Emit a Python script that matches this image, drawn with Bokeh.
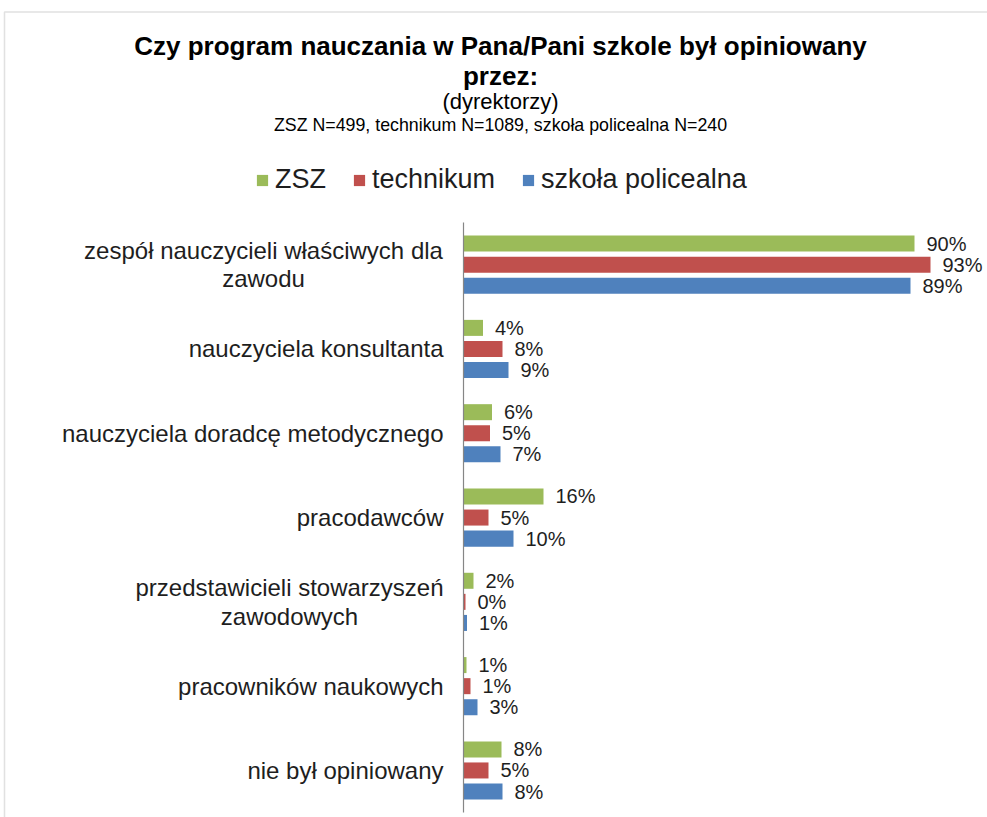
from bokeh.plotting import figure
from bokeh.models import (Range1d, ColumnDataSource, Label,
                          Legend, LegendItem, BoxAnnotation)
from bokeh.transform import dodge
from bokeh.core.properties import value
from bokeh.embed import file_html
from bokeh.resources import INLINE

# ---------------- data ----------------
categories = [
    "zespół nauczycieli właściwych dla\nzawodu",
    "nauczyciela konsultanta",
    "nauczyciela doradcę metodycznego",
    "pracodawców",
    "przedstawicieli stowarzyszeń\nzawodowych",
    "pracowników naukowych",
    "nie był opiniowany",
]
series = ["ZSZ", "technikum", "szkoła policealna"]
zsz = [90.2, 3.9, 5.7, 16.0, 2.0, 0.6, 7.6]
technikum = [93.4, 7.8, 5.3, 5.0, 0.4, 1.4, 5.0]
policealna = [89.4, 9.0, 7.4, 10.0, 0.7, 2.8, 7.8]

title_line1 = "Czy program nauczania w Pana/Pani szkole był opiniowany"
title_line2 = "przez:"
subtitle1 = "(dyrektorzy)"
subtitle2 = "ZSZ N=499, technikum N=1089, szkoła policealna N=240"

# ---------------- styles ----------------
colors = ["#9BBB59", "#C0504D", "#4F81BD"]
offsets = [-0.25, 0.0, 0.25]          # top-to-bottom inside each category band
FONT = "Liberation Sans"
TXT = "#1e1e1e"
W, H = 987, 817

# category index (0 = top band); the y axis runs downward
positions = list(range(len(categories)))

p = figure(width=W, height=H,
           y_range=Range1d(6.558, -3.1335),
           x_range=Range1d(-92.6, 104.8),
           x_axis_location=None, y_axis_location=None,
           min_border_left=0, min_border_right=0,
           min_border_top=0, min_border_bottom=0,
           toolbar_location=None, output_backend="svg")
p.grid.visible = False
p.outline_line_color = None
p.background_fill_color = "white"
p.border_fill_color = "white"

renderers = []
for name, vals, col, off in zip(series, [zsz, technikum, policealna], colors, offsets):
    src = ColumnDataSource(dict(pos=positions, val=vals,
                                label=[f"{round(v)}%" for v in vals]))
    r = p.hbar(y=dodge("pos", off), left=0, right="val",
               height=0.19, source=src, fill_color=col, line_color=None)
    renderers.append(r)
    p.text(x="val", y=dodge("pos", off), text="label", source=src,
           x_offset=12, text_align="left", text_baseline="middle",
           text_font=value(FONT), text_font_size="20px", text_color=TXT)

# category axis line (spans the plot area only)
p.segment(x0=0, x1=0, y0=positions[0] - 0.5, y1=positions[-1] + 0.5,
          line_color="#868686", line_width=1.2)

# category labels
multi_offset = {0: -200, 4: -174}
for i, cat in zip(positions, categories):
    if "\n" in cat:
        p.text(x=0, y=[i], text=[cat], x_offset=multi_offset[i],
               text_align="center", text_baseline="middle", text_line_height=1.05,
               text_font=value(FONT), text_font_size="24px", text_color=TXT)
    else:
        p.text(x=0, y=[i], text=[cat], x_offset=-20,
               text_align="right", text_baseline="middle",
               text_font=value(FONT), text_font_size="24px", text_color=TXT)

# titles (screen units measured from the bottom-left of the canvas)
def add_label(text, y, size, bold=False):
    p.add_layout(Label(x=500, y=y, x_units="screen", y_units="screen", text=text,
                       text_align="center", text_baseline="middle",
                       text_font=FONT, text_font_size=size, text_color="#000000",
                       text_font_style="bold" if bold else "normal"))

add_label(title_line1, H - 45, "26px", True)
add_label(title_line2, H - 75, "26px", True)
add_label(subtitle1, H - 101, "22px")
add_label(subtitle2, H - 124, "17.8px")

legend = Legend(items=[LegendItem(label=s, renderers=[r]) for s, r in zip(series, renderers)],
                orientation="horizontal", location=(255, H - 195),
                label_text_font=FONT, label_text_font_size="27px", label_text_color=TXT,
                glyph_width=14, glyph_height=14, label_standoff=6, spacing=26,
                padding=0, margin=0, border_line_color=None, background_fill_alpha=0)
p.add_layout(legend)

# chart-area border
p.add_layout(BoxAnnotation(left=4, right=1500, top=H - 11.5, bottom=-200,
                           left_units="screen", right_units="screen",
                           top_units="screen", bottom_units="screen",
                           fill_alpha=0, line_color="#9a9a9a", line_width=1.5))

open("out.html", "w").write(file_html(p, INLINE))
